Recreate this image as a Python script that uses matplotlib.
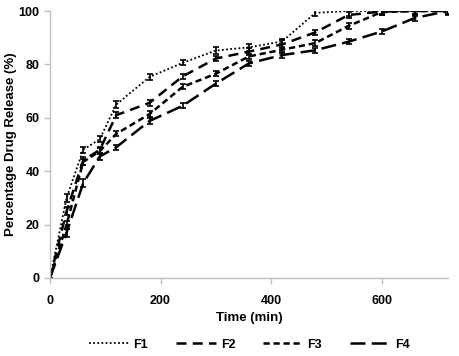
import matplotlib
matplotlib.use("Agg")
import matplotlib.pyplot as plt

time = [0, 30, 60, 90, 120, 180, 240, 300, 360, 420, 480, 540, 600, 660, 720]
f1 = [0, 30, 48, 52, 65, 75.3, 80.6, 85.2, 86.4, 88.6, 99.3, 100, 100, 100, 100]
f2 = [0, 25, 44, 48, 61, 65.6, 75.5, 82.2, 84.8, 87.5, 92, 98.5, 99.8, 100, 100]
f3 = [0, 20, 43.5, 47.5, 54, 61.4, 71.6, 76.5, 83, 85.5, 88, 94.4, 99.6, 100, 100]
f4 = [0, 17, 35.5, 45.5, 49, 58.8, 64.5, 72.8, 80.4, 83.5, 85.3, 88.5, 92.3, 97.4, 100]
e1 = [0, 1.5, 1.2, 1.0, 1.2, 1.0, 1.0, 1.2, 1.2, 1.0, 1.0, 2.0, 1.5, 2.0, 1.5]
e2 = [0, 1.5, 1.5, 1.2, 1.0, 1.0, 1.0, 1.0, 1.2, 1.5, 1.0, 1.2, 1.0, 1.0, 1.0]
e3 = [0, 1.5, 1.2, 1.2, 1.0, 1.0, 1.0, 1.0, 1.0, 1.2, 1.2, 1.0, 1.0, 1.0, 1.0]
e4 = [0, 1.5, 1.5, 1.2, 1.0, 1.0, 1.0, 1.0, 1.0, 1.0, 1.0, 1.0, 1.0, 1.0, 1.0]
labels = ["F1", "F2", "F3", "F4"]

plt.rcParams['font.family'] = ['Liberation Sans', 'DejaVu Sans']
plt.rcParams['font.weight'] = 'bold'

fig = plt.figure(figsize=(4.59, 3.56), dpi=100)
ax = fig.add_axes([50/459, 1 - 278/356, 398/459, 267/356])

styles = [
    dict(linestyle=(0, (1, 1.3)), linewidth=1.3),
    dict(linestyle=(0, (4, 2.5)), linewidth=1.8),
    dict(linestyle=(0, (2.5, 1.5)), linewidth=1.8),
    dict(linestyle=(0, (6, 2.5)), linewidth=1.8),
]
for y, e, lab, st in zip([f1, f2, f3, f4], [e1, e2, e3, e4], labels, styles):
    ax.plot(time, y, color='black', label=lab, **st)
    ax.errorbar(time, y, yerr=e, fmt='none', ecolor='black', elinewidth=1.2,
                capsize=2.5, capthick=1.2)

ax.set_xlim(0, 720)
ax.set_ylim(0, 100)
ax.set_xticks([0, 200, 400, 600])
ax.set_yticks([0, 20, 40, 60, 80, 100])
for s in ['top', 'right']:
    ax.spines[s].set_visible(False)
for s in ['left', 'bottom']:
    ax.spines[s].set_color('#bfbfbf')
    ax.spines[s].set_linewidth(1.0)
ax.tick_params(axis='both', colors='#bfbfbf', labelcolor='black', labelsize=9,
               length=4, width=1)
ax.tick_params(axis='x', pad=8)
for t in ax.get_xticklabels() + ax.get_yticklabels():
    t.set_fontweight('bold')
ax.set_xlabel('Time (min)', fontsize=9.5, fontweight='bold', labelpad=4)
ax.set_ylabel('Percentage Drug Release (%)', fontsize=9.5, fontweight='bold')
ax.yaxis.set_label_coords(-0.083, 0.5)

leg = ax.legend(loc='center', bbox_to_anchor=(0.5, -0.25), ncol=4,
                frameon=False, fontsize=9, handlelength=3.2, columnspacing=2.2,
                handletextpad=0.4)
for t in leg.get_texts():
    t.set_fontweight('bold')

fig.savefig('out.png', dpi=100)
